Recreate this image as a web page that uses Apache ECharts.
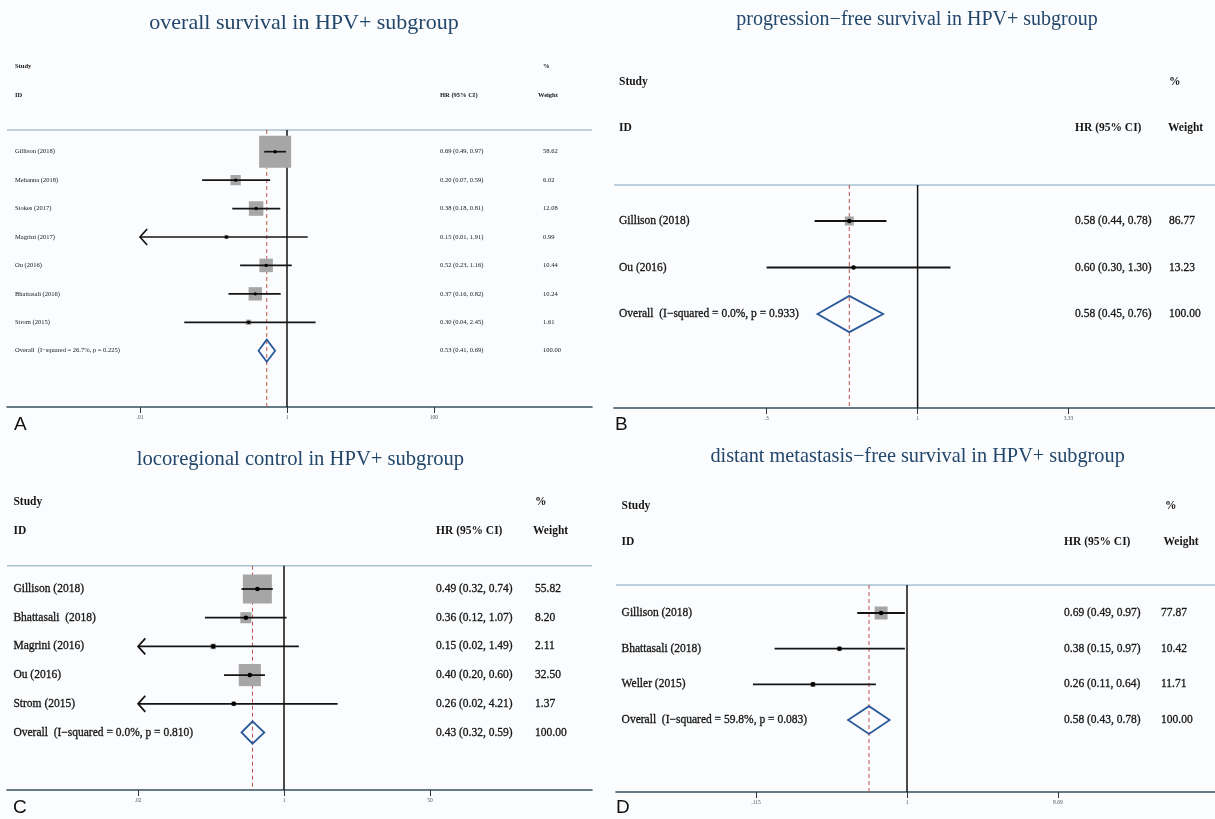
<!DOCTYPE html>
<html>
<head>
<meta charset="utf-8">
<title>Forest plots: HPV+ subgroup</title>
<script src="https://cdn.jsdelivr.net/npm/echarts@6/dist/echarts.min.js"></script>
<style>
  html, body { margin: 0; padding: 0; background: #fbfcfe; }
  #chart { width: 1215px; height: 819px; }
</style>
</head>
<body>
<div id="chart"></div>
<script>
// ---------- Data ----------
// A: overall survival
const osStudies   = ['Gillison (2018)', 'Mehanna (2018)', 'Stokes (2017)', 'Magrini (2017)', 'Ou (2016)', 'Bhattasali (2016)', 'Strom (2015)'];
const osHR        = [0.69, 0.20, 0.38, 0.15, 0.52, 0.37, 0.30];
const osLower     = [0.49, 0.07, 0.18, 0.01, 0.23, 0.16, 0.04];
const osUpper     = [0.97, 0.59, 0.81, 1.91, 1.16, 0.82, 2.45];
const osWeight    = [58.62, 6.02, 12.08, 0.99, 10.44, 10.24, 1.61];
const osTruncated = [false, false, false, true, false, false, false];
const osPooled    = [0.53, 0.41, 0.69];      // HR, lower, upper
const osHet       = ['26.7%', '0.225'];      // I-squared, p
const osTicks      = [0.01, 1, 100];
const osTickLabels = ['.01', '1', '100'];

// B: progression-free survival
const pfsStudies   = ['Gillison (2018)', 'Ou (2016)'];
const pfsHR        = [0.58, 0.60];
const pfsLower     = [0.44, 0.30];
const pfsUpper     = [0.78, 1.30];
const pfsWeight    = [86.77, 13.23];
const pfsTruncated = [false, false];
const pfsPooled    = [0.58, 0.45, 0.76];
const pfsHet       = ['0.0%', '0.933'];
const pfsTicks      = [0.3, 1, 3.33];
const pfsTickLabels = ['.3', '1', '3.33'];

// C: locoregional control
const lrcStudies   = ['Gillison (2018)', 'Bhattasali  (2018)', 'Magrini (2016)', 'Ou (2016)', 'Strom (2015)'];
const lrcHR        = [0.49, 0.36, 0.15, 0.40, 0.26];
const lrcLower     = [0.32, 0.12, 0.02, 0.20, 0.02];
const lrcUpper     = [0.74, 1.07, 1.49, 0.60, 4.21];
const lrcWeight    = [55.82, 8.20, 2.11, 32.50, 1.37];
const lrcTruncated = [false, false, true, false, true];
const lrcPooled    = [0.43, 0.32, 0.59];
const lrcHet       = ['0.0%', '0.810'];
const lrcTicks      = [0.02, 1, 50];
const lrcTickLabels = ['.02', '1', '50'];

// D: distant metastasis-free survival
const dmfsStudies   = ['Gillison (2018)', 'Bhattasali (2018)', 'Weller (2015)'];
const dmfsHR        = [0.69, 0.38, 0.26];
const dmfsLower     = [0.49, 0.15, 0.11];
const dmfsUpper     = [0.97, 0.97, 0.64];
const dmfsWeight    = [77.87, 10.42, 11.71];
const dmfsTruncated = [false, false, false];
const dmfsPooled    = [0.58, 0.43, 0.78];
const dmfsHet       = ['59.8%', '0.083'];
const dmfsTicks      = [0.115, 1, 8.69];
const dmfsTickLabels = ['.115', '1', '8.69'];

// ---------- Panel setup (layout in pixels) ----------
const panels = [
  {
    title: 'overall survival in HPV+ subgroup', letter: 'A',
    studies: osStudies, hr: osHR, lo: osLower, hi: osUpper, w: osWeight, trunc: osTruncated,
    pooled: osPooled, het: osHet, ticks: osTicks, tickLabels: osTickLabels,
    L: { left: 7, right: 592, sepY: 130, axisY: 407, x1: 287, pxPerLn: 31.92, firstRow: 151.7, gap: 28.43,
         font: 6.5, titleX: 304, titleY: 23, titleSize: 22, studyY: 66, idY: 95,
         labelX: 15, ciX: 440, wX: 543, pctX: 543, weightX: 538, box: 4.18, dot: 1.7, lw: 1.7,
         tickFont: 5.5, letterX: 14, letterY: 425 }
  },
  {
    title: 'progression\u2212free survival in HPV+ subgroup', letter: 'B',
    studies: pfsStudies, hr: pfsHR, lo: pfsLower, hi: pfsUpper, w: pfsWeight, trunc: pfsTruncated,
    pooled: pfsPooled, het: pfsHet, ticks: pfsTicks, tickLabels: pfsTickLabels,
    L: { left: 614, right: 1215, sepY: 185, axisY: 408, x1: 917.6, pxPerLn: 125.4, firstRow: 221, gap: 46.5,
         font: 11.5, titleX: 917, titleY: 20, titleSize: 20, studyY: 82, idY: 128,
         labelX: 619, ciX: 1075, wX: 1169, pctX: 1169, weightX: 1168, box: 0.97, dot: 2.2, lw: 1.8,
         tickFont: 5.5, letterX: 615, letterY: 425 }
  },
  {
    title: 'locoregional control in HPV+ subgroup', letter: 'C',
    studies: lrcStudies, hr: lrcHR, lo: lrcLower, hi: lrcUpper, w: lrcWeight, trunc: lrcTruncated,
    pooled: lrcPooled, het: lrcHet, ticks: lrcTicks, tickLabels: lrcTickLabels,
    L: { left: 7, right: 592, sepY: 565.7, axisY: 790, x1: 284, pxPerLn: 37.3, firstRow: 589, gap: 28.7,
         font: 11.5, titleX: 300.5, titleY: 460, titleSize: 20.6, studyY: 501.7, idY: 531,
         labelX: 13.4, ciX: 436, wX: 535, pctX: 535, weightX: 533, box: 3.88, dot: 2.3, lw: 1.8,
         tickFont: 5.5, letterX: 13, letterY: 808 }
  },
  {
    title: 'distant metastasis\u2212free survival in HPV+ subgroup', letter: 'D',
    studies: dmfsStudies, hr: dmfsHR, lo: dmfsLower, hi: dmfsUpper, w: dmfsWeight, trunc: dmfsTruncated,
    pooled: dmfsPooled, het: dmfsHet, ticks: dmfsTicks, tickLabels: dmfsTickLabels,
    L: { left: 616, right: 1215, sepY: 585, axisY: 792, x1: 907, pxPerLn: 69.8, firstRow: 613, gap: 35.7,
         font: 11.5, titleX: 917.6, titleY: 457, titleSize: 20.3, studyY: 506, idY: 541.7,
         labelX: 621.6, ciX: 1064, wX: 1161, pctX: 1165, weightX: 1163.5, box: 1.47, dot: 2.3, lw: 1.8,
         tickFont: 5.5, letterX: 616, letterY: 808 }
  }
];

const SERIF = '"Liberation Serif", "Times New Roman", serif';
const SANS = '"Liberation Sans", Arial, sans-serif';
const TEXT = '#161616';
const ln = Math.log;
const f2 = v => v.toFixed(2);
const ciText = (h, l, u) => `${f2(h)} (${f2(l)}, ${f2(u)})`;

function txt(x, y, s, size, weight, align) {
  const style = { text: s, fill: TEXT, fontSize: size, fontFamily: SERIF, fontWeight: weight || 'normal',
                  align: align || 'left', verticalAlign: 'middle' };
  if (size > 8 && weight !== 'bold') { style.stroke = TEXT; style.lineWidth = 0.3; }
  return { type: 'text', x: x, y: y, style: style };
}

const grids = [], xAxes = [], yAxes = [], series = [], graphics = [];

panels.forEach((p, k) => {
  const L = p.L;
  const n = p.studies.length;
  const height = L.axisY - L.sepY;

  grids.push({ left: L.left, top: L.sepY, width: L.right - L.left, height: height });

  xAxes.push({
    gridIndex: k, type: 'value',
    min: (L.left - L.x1) / L.pxPerLn,
    max: (L.right - L.x1) / L.pxPerLn,
    axisLine: { show: true, onZero: false, lineStyle: { color: '#34505e', width: 1.6 } },
    splitLine: { show: false },
    axisTick: { show: true, customValues: p.ticks.map(ln), length: 6, lineStyle: { color: '#333', width: 1 } },
    axisLabel: {
      customValues: p.ticks.map(ln), margin: 8, fontSize: L.tickFont, color: '#555', fontFamily: SERIF,
      formatter: v => {
        let best = 0;
        p.ticks.forEach((t, i) => { if (Math.abs(ln(t) - v) < Math.abs(ln(p.ticks[best]) - v)) best = i; });
        return p.tickLabels[best];
      }
    }
  });

  yAxes.push({
    gridIndex: k, type: 'value', inverse: true, show: false,
    min: -(L.firstRow - L.sepY) / L.gap,
    max: (L.axisY - L.firstRow) / L.gap
  });

  // reference lines: null effect (solid) and pooled estimate (dashed)
  series.push({
    type: 'custom', xAxisIndex: k, yAxisIndex: k, silent: true, animation: false, z: 1,
    data: [[0, 0], [ln(p.pooled[0]), 1]],
    encode: { x: 0, y: -1 },
    renderItem: (params, api) => {
      const cs = params.coordSys;
      const x = api.coord([api.value(0), 0])[0];
      const solid = api.value(1) === 0;
      return {
        type: 'line',
        shape: { x1: x, y1: cs.y, x2: x, y2: cs.y + cs.height },
        style: solid ? { stroke: '#111', lineWidth: 1.5 }
                     : { stroke: '#c4504a', lineWidth: 1, lineDash: [4, 3] }
      };
    }
  });

  // individual studies
  const rows = p.studies.map((s, i) => [i, ln(p.hr[i]), ln(p.lo[i]), ln(p.hi[i]), p.w[i], p.trunc[i] ? 1 : 0]);
  series.push({
    type: 'custom', xAxisIndex: k, yAxisIndex: k, silent: true, animation: false, z: 3,
    data: rows, encode: { x: [1, 2, 3], y: 0 },
    renderItem: (params, api) => {
      const i = api.value(0);
      const [xc, y] = api.coord([api.value(1), i]);
      const xl = api.coord([api.value(2), i])[0];
      const xh = api.coord([api.value(3), i])[0];
      const side = L.box * Math.sqrt(api.value(4));
      const children = [
        { type: 'rect', shape: { x: xc - side / 2, y: y - side / 2, width: side, height: side },
          style: { fill: '#a6a6a6' } },
        { type: 'line', shape: { x1: xl, y1: y, x2: xh, y2: y },
          style: { stroke: '#141414', lineWidth: L.lw } },
        { type: 'circle', shape: { cx: xc, cy: y, r: L.dot }, style: { fill: '#000' } }
      ];
      if (api.value(5) === 1) {
        const h = 0.28 * L.gap;
        children.push({ type: 'polyline',
          shape: { points: [[xl + h * 0.9, y - h], [xl, y], [xl + h * 0.9, y + h]] },
          style: { stroke: '#141414', lineWidth: L.lw, fill: null } });
      }
      const idx = params.dataIndex;
      children.push(txt(L.labelX, y, p.studies[idx], L.font));
      children.push(txt(L.ciX, y, ciText(p.hr[idx], p.lo[idx], p.hi[idx]), L.font));
      children.push(txt(L.wX, y, f2(p.w[idx]), L.font));
      return { type: 'group', children: children };
    }
  });

  // pooled estimate (diamond)
  series.push({
    type: 'custom', xAxisIndex: k, yAxisIndex: k, silent: true, animation: false, z: 4,
    data: [[n, ln(p.pooled[0]), ln(p.pooled[1]), ln(p.pooled[2])]],
    encode: { x: [1, 2, 3], y: 0 },
    renderItem: (params, api) => {
      const r = api.value(0);
      const [xc, y] = api.coord([api.value(1), r]);
      const xl = api.coord([api.value(2), r])[0];
      const xh = api.coord([api.value(3), r])[0];
      const h = 0.39 * L.gap;
      const total = p.w.reduce((a, b) => a + b, 0);
      return { type: 'group', children: [
        { type: 'polygon', shape: { points: [[xl, y], [xc, y - h], [xh, y], [xc, y + h]] },
          style: { stroke: '#2c5b9c', lineWidth: 1.8, fill: null } },
        txt(L.labelX, y, `Overall  (I\u2212squared = ${p.het[0]}, p = ${p.het[1]})`, L.font),
        txt(L.ciX, y, ciText(p.pooled[0], p.pooled[1], p.pooled[2]), L.font),
        txt(L.wX, y, Math.round(total) === 100 ? '100.00' : f2(total), L.font)
      ] };
    }
  });

  // title, column headers, separator and panel letter
  graphics.push(
    { type: 'text', x: L.titleX, y: L.titleY,
      style: { text: p.title, fill: '#23476b', fontSize: L.titleSize, fontFamily: SERIF,
               align: 'center', verticalAlign: 'middle' } },
    txt(L.labelX, L.studyY, 'Study', L.font, 'bold'),
    txt(L.pctX, L.studyY, '%', L.font, 'bold'),
    txt(L.labelX, L.idY, 'ID', L.font, 'bold'),
    txt(L.ciX, L.idY, 'HR (95% CI)', L.font, 'bold'),
    txt(L.weightX, L.idY, 'Weight', L.font, 'bold'),
    { type: 'line', shape: { x1: L.left, y1: L.sepY, x2: L.right, y2: L.sepY },
      style: { stroke: '#a9c2d4', lineWidth: 1.5 } },
    { type: 'text', x: L.letterX, y: L.letterY,
      style: { text: p.letter, fill: '#111', fontSize: 19, fontFamily: SANS,
               align: 'left', verticalAlign: 'middle' } }
  );
});

const chart = echarts.init(document.getElementById('chart'), null, { renderer: 'canvas' });
chart.setOption({
  backgroundColor: '#fbfcfe',
  animation: false,
  grid: grids,
  xAxis: xAxes,
  yAxis: yAxes,
  series: series,
  graphic: { elements: graphics }
});
</script>
</body>
</html>
